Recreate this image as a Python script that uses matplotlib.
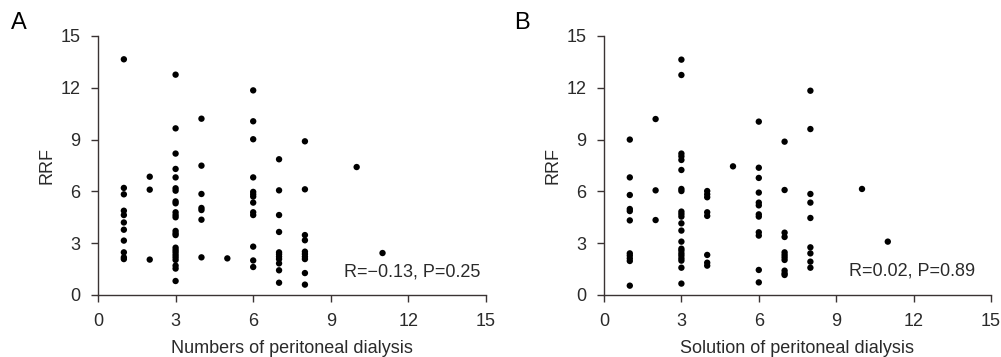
import matplotlib
matplotlib.use("Agg")
import matplotlib.pyplot as plt

plt.rcParams['font.family'] = ['Liberation Sans', 'DejaVu Sans']

# Panel A: Numbers of peritoneal dialysis vs RRF
a_x = ([1]*11 + [2]*3 + [3]*24 + [4]*7 + [5] + [6]*13 + [7]*11 + [8]*10 + [10] + [11])
a_y = [13.65, 6.2, 5.83, 4.88, 4.63, 4.2, 3.78, 3.15, 2.47, 2.18, 2.08,
       6.85, 6.1, 2.05,
       12.76, 9.65, 8.19, 7.3, 6.81, 6.18, 6.04, 5.42, 5.31, 4.79, 4.63, 4.5,
       3.71, 3.57, 3.47, 2.74, 2.6, 2.47, 2.32, 2.18, 2.03, 1.7, 1.53, 0.81,
       10.21, 7.49, 5.85, 5.04, 4.92, 4.36, 2.18,
       2.12,
       11.85, 10.06, 9.02, 6.81, 5.97, 5.83, 5.7, 5.35, 4.79, 4.63, 2.8, 2.0, 1.62,
       7.86, 6.06, 4.63, 3.65, 2.47, 2.36, 2.22, 2.08, 1.83, 1.43, 0.71,
       8.9, 6.12, 3.47, 3.17, 2.51, 2.37, 2.22, 2.08, 1.27, 0.6,
       7.41,
       2.43]

# Panel B: Solution of peritoneal dialysis vs RRF
b_x = ([1]*11 + [2]*3 + [3]*22 + [4]*8 + [5] + [6]*12 + [7]*11 + [8]*9 + [10] + [11])
b_y = [9.0, 6.81, 5.79, 4.98, 4.86, 4.32, 2.41, 2.28, 2.12, 1.97, 0.54,
       10.19, 6.06, 4.34,
       13.63, 12.74, 8.19, 8.03, 7.82, 7.24, 6.14, 6.02, 4.83, 4.69, 4.54, 4.15,
       3.73, 3.09, 2.68, 2.57, 2.41, 2.28, 2.12, 1.99, 1.58, 0.66,
       6.02, 5.83, 5.66, 4.79, 4.58, 2.32, 1.87, 1.7,
       7.45,
       10.04, 7.37, 6.78, 5.93, 5.35, 5.19, 4.67, 4.54, 3.63, 3.44, 1.45, 0.73,
       8.88, 6.08, 3.61, 3.36, 2.47, 2.32, 2.18, 2.03, 1.41, 1.25, 1.16,
       11.83, 9.61, 5.85, 5.35, 4.46, 2.76, 2.41, 1.93, 1.58,
       6.14,
       3.09]

ticks = [0, 3, 6, 9, 12, 15]
panels = [
    dict(letter="A", x=a_x, y=a_y, xlabel="Numbers of peritoneal dialysis",
         note="R=\u22120.13, P=0.25", note_x=14.77, note_y=1.33),
    dict(letter="B", x=b_x, y=b_y, xlabel="Solution of peritoneal dialysis",
         note="R=0.02, P=0.89", note_x=14.38, note_y=1.39),
]

fig = plt.figure(figsize=(10.01, 3.57), dpi=100)
axes_rects = [[0.0979, 0.1737, 0.3876, 0.7255], [0.6034, 0.1737, 0.3866, 0.7255]]
letter_pos = [(0.011, 0.965), (0.514, 0.965)]

spine_col = "#3a3333"
text_col = "#2a2a2a"

for p, rect, lp in zip(panels, axes_rects, letter_pos):
    ax = fig.add_axes(rect)
    ax.scatter(p["x"], p["y"], s=21, color="black", edgecolors="none", zorder=3, clip_on=False)
    ax.set_xlim(0, 15)
    ax.set_ylim(0, 15)
    ax.set_xticks(ticks)
    ax.set_yticks(ticks)
    for s in ["top", "right"]:
        ax.spines[s].set_visible(False)
    for s in ["left", "bottom"]:
        ax.spines[s].set_color(spine_col)
        ax.spines[s].set_linewidth(1.0)
    ax.tick_params(direction="out", length=5, width=1.0, color=spine_col,
                   labelsize=13, labelcolor=text_col)
    ax.tick_params(axis="x", pad=8)
    ax.tick_params(axis="y", pad=7.5)
    ax.set_xlabel(p["xlabel"], fontsize=13, color=text_col, labelpad=7)
    ax.set_ylabel("RRF", fontsize=13, color=text_col, labelpad=4)
    ax.text(p["note_x"], p["note_y"], p["note"], ha="right", va="center",
            fontsize=13, color=text_col)
    fig.text(lp[0], lp[1], p["letter"], fontsize=17, color="black",
             ha="left", va="top")

fig.savefig("out.png", dpi=100)
